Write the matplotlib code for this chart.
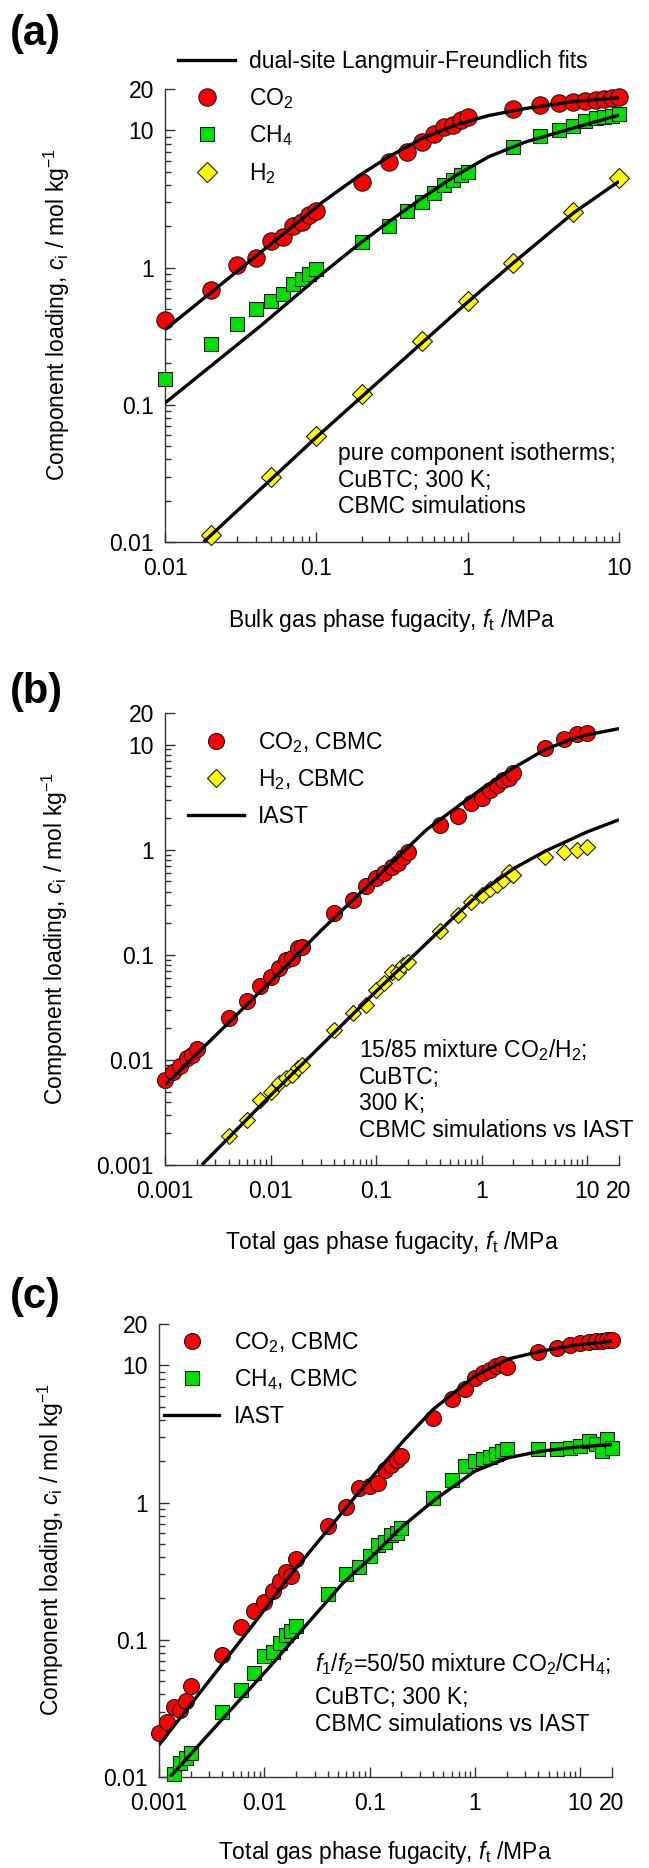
import matplotlib
matplotlib.use('Agg')
import matplotlib.pyplot as plt
import numpy as np
from matplotlib.ticker import LogLocator, NullFormatter, FixedLocator
from matplotlib.lines import Line2D

plt.rcParams['font.family'] = ['Liberation Sans', 'DejaVu Sans']
plt.rcParams['mathtext.fontset'] = 'custom'
plt.rcParams['mathtext.rm'] = 'Liberation Sans'
plt.rcParams['mathtext.it'] = 'Liberation Sans:italic'
plt.rcParams['mathtext.bf'] = 'Liberation Sans:bold'

# ---------------- data: panel (a) pure component isotherms ----------------
fa_co2 = [0.01, 0.02, 0.03, 0.04, 0.05, 0.06, 0.07, 0.08, 0.09, 0.1,
          0.2, 0.3, 0.4, 0.5, 0.6, 0.7, 0.8, 0.9, 1.0,
          2, 3, 4, 5, 6, 7, 8, 9, 10]
ca_co2 = [0.415, 0.685, 1.05, 1.17, 1.55, 1.68, 2.02, 2.16, 2.42, 2.58,
          4.17, 5.9, 6.96, 8.2, 9.46, 10.6, 11.0, 11.9, 12.4,
          14.4, 15.4, 15.9, 16.2, 16.4, 16.6, 16.9, 17.2, 17.6]
fa_ch4 = fa_co2
ca_ch4 = [0.154, 0.277, 0.386, 0.497, 0.57, 0.637, 0.753, 0.82, 0.89, 0.98,
          1.53, 2.02, 2.58, 3.01, 3.47, 3.98, 4.33, 4.71, 4.98,
          7.5, 9.05, 10.0, 10.7, 11.7, 12.2, 12.5, 12.8, 13.2]
fa_h2 = [0.02, 0.05, 0.1, 0.2, 0.5, 1, 2, 5, 10]
ca_h2 = [0.0112, 0.030, 0.059, 0.12, 0.29, 0.57, 1.08, 2.52, 4.47]

fa_fit_co2 = [0.01, 0.02, 0.0394, 0.0653, 0.109, 0.201, 0.30, 0.497, 0.826, 1.37, 2.39, 5, 10]
ca_fit_co2 = [0.353, 0.654, 1.20, 1.88, 2.98, 4.84, 6.4, 8.7, 10.9, 12.8, 14.4, 16.2, 17.3]
fa_fit_ch4 = [0.01, 0.0425, 0.109, 0.194, 0.30, 0.497, 0.826, 1.37, 2.39, 5, 10]
ca_fit_ch4 = [0.103, 0.373, 0.90, 1.50, 2.15, 3.2, 4.65, 6.4, 8.2, 10.4, 12.9]
fa_fit_h2 = [0.018, 0.1, 1, 2, 5, 10]
ca_fit_h2 = [0.010, 0.058, 0.56, 1.08, 2.5, 4.25]

# ---------------- data: panel (b) 15/85 CO2/H2 mixture ----------------
fb_co2 = [0.001, 0.0012, 0.0014, 0.0016, 0.0018, 0.002,
          0.004, 0.006, 0.008, 0.01, 0.012, 0.014, 0.016, 0.018, 0.02,
          0.04, 0.06, 0.08, 0.1, 0.12, 0.14, 0.16, 0.18, 0.2,
          0.4, 0.6, 0.8, 1, 1.2, 1.4, 1.6, 1.8, 2,
          4, 6, 8, 10]
cb_co2 = [0.0064, 0.0077, 0.0088, 0.0104, 0.0112, 0.0126,
          0.025, 0.036, 0.050, 0.062, 0.075, 0.090, 0.093, 0.116, 0.118,
          0.25, 0.33, 0.45, 0.54, 0.60, 0.69, 0.75, 0.86, 0.96,
          1.73, 2.08, 2.78, 3.1, 3.73, 4.16, 4.64, 4.8, 5.4,
          9.3, 11.2, 12.5, 12.9]
fb_h2 = [0.004, 0.006, 0.008, 0.01, 0.012, 0.014, 0.016, 0.018, 0.02,
         0.04, 0.06, 0.08, 0.1, 0.12, 0.14, 0.16, 0.18, 0.2,
         0.4, 0.6, 0.8, 1, 1.2, 1.4, 1.6, 1.8, 2,
         4, 6, 8, 10]
cb_h2 = [0.0019, 0.0027, 0.0042, 0.0050, 0.0060, 0.0067, 0.0072, 0.0083, 0.0090,
         0.0193, 0.028, 0.033, 0.046, 0.054, 0.069, 0.068, 0.080, 0.086,
         0.167, 0.24, 0.32, 0.37, 0.42, 0.46, 0.52, 0.62, 0.58,
         0.86, 0.96, 1.0, 1.07]
fb_iast_co2 = [0.001, 0.003, 0.01, 0.03, 0.1, 0.3, 1, 2, 4, 7, 10, 20]
cb_iast_co2 = [0.0058, 0.017, 0.056, 0.17, 0.54, 1.55, 3.8, 6.0, 9.0, 11.2, 12.4, 14.2]
fb_iast_h2 = [0.00223, 0.01, 0.1, 0.5, 1, 2, 4, 10, 20]
cb_iast_h2 = [0.001, 0.0046, 0.045, 0.21, 0.40, 0.66, 0.97, 1.48, 1.93]

# ---------------- data: panel (c) 50/50 CO2/CH4 mixture ----------------
fc_co2 = [0.001, 0.0012, 0.0014, 0.0016, 0.0018, 0.002,
          0.004, 0.006, 0.008, 0.01, 0.012, 0.014, 0.016, 0.018, 0.02,
          0.04, 0.06, 0.08, 0.1, 0.12, 0.14, 0.16, 0.18, 0.2,
          0.4, 0.6, 0.8, 1, 1.2, 1.4, 1.6, 1.8, 2,
          4, 6, 8, 10, 12, 14, 16, 18, 20]
cc_co2 = [0.0208, 0.025, 0.0326, 0.031, 0.036, 0.046,
          0.077, 0.124, 0.161, 0.19, 0.225, 0.27, 0.31, 0.29, 0.39,
          0.67, 0.93, 1.28, 1.31, 1.38, 1.74, 1.89, 2.05, 2.2,
          4.15, 5.65, 6.68, 8.1, 8.8, 9.2, 9.9, 10.2, 9.8,
          12.4, 13.4, 14.0, 14.5, 14.8, 15.1, 15.1, 15.3, 15.4]
fc_ch4 = [0.0014, 0.0016, 0.0018, 0.002,
          0.004, 0.006, 0.008, 0.01, 0.012, 0.014, 0.016, 0.018, 0.02,
          0.04, 0.06, 0.08, 0.1, 0.12, 0.14, 0.16, 0.18, 0.2,
          0.4, 0.6, 0.8, 1, 1.2, 1.4, 1.6, 1.8, 2,
          4, 6, 8, 10, 12, 14, 16, 18, 20]
cc_ch4 = [0.0106, 0.0126, 0.0137, 0.0149,
          0.030, 0.0427, 0.057, 0.076, 0.082, 0.095, 0.109, 0.115, 0.125,
          0.217, 0.30, 0.34, 0.405, 0.49, 0.52, 0.58, 0.60, 0.65,
          1.08, 1.47, 1.84, 2.0, 2.06, 2.15, 2.24, 2.37, 2.44,
          2.44, 2.44, 2.5, 2.58, 2.8, 2.65, 2.37, 2.88, 2.5]
fc_iast_co2 = [0.001, 0.0085, 0.0163, 0.072, 0.112, 0.208, 0.4, 0.995, 2.06, 4.27, 8.85, 20]
cc_iast_co2 = [0.0171, 0.14, 0.274, 1.09, 1.62, 2.80, 4.77, 8.36, 11.1, 12.7, 14.0, 15.0]
fc_iast_ch4 = [0.00127, 0.0113, 0.056, 0.1, 0.2, 0.416, 0.995, 2.06, 4.27, 8.85, 20]
cc_iast_ch4 = [0.01, 0.0638, 0.26, 0.39, 0.66, 1.05, 1.69, 2.12, 2.37, 2.53, 2.65]

# tick labels
xt_a = [0.01, 0.1, 1, 10]
xtl_a = ['0.01', '0.1', '1', '10']
yt_a = [0.01, 0.1, 1, 10, 20]
ytl_a = ['0.01', '0.1', '1', '10', '20']
xt_bc = [0.001, 0.01, 0.1, 1, 10, 20]
xtl_bc = ['0.001', '0.01', '0.1', '1', '10', '20']
yt_b = [0.001, 0.01, 0.1, 1, 10, 20]
ytl_b = ['0.001', '0.01', '0.1', '1', '10', '20']
yt_c = [0.01, 0.1, 1, 10, 20]
ytl_c = ['0.01', '0.1', '1', '10', '20']

# ---------------- figure ----------------
W, H = 649, 1868
fig = plt.figure(figsize=(W / 100, H / 100), dpi=100)

RED = '#FF0000'
GREEN = '#00E000'
YELLOW = '#FFFF00'
EC = '#1a1a1a'
FS = 16.5
LW = 2.4


def rect(l, r, t, b):
    return [l / W, 1 - b / H, (r - l) / W, (b - t) / H]


def style(ax, xlim, ylim, xt, xtl, yt, ytl):
    ax.set_xscale('log')
    ax.set_yscale('log')
    ax.set_xlim(*xlim)
    ax.set_ylim(*ylim)
    for s in ['top', 'right']:
        ax.spines[s].set_visible(False)
    for s in ['left', 'bottom']:
        ax.spines[s].set_color('#333333')
        ax.spines[s].set_linewidth(1.0)
    ax.xaxis.set_major_locator(FixedLocator(xt))
    ax.set_xticklabels(xtl)
    ax.yaxis.set_major_locator(FixedLocator(yt))
    ax.set_yticklabels(ytl)
    for a in (ax.xaxis, ax.yaxis):
        a.set_minor_locator(LogLocator(base=10, subs=np.arange(2, 10), numticks=50))
        a.set_minor_formatter(NullFormatter())
    ax.tick_params(which='major', direction='in', length=7, width=1,
                   color='#333333', labelsize=FS)
    ax.tick_params(which='minor', direction='in', length=4, width=1, color='#333333')
    ax.tick_params(axis='x', which='major', pad=11)
    ax.tick_params(axis='y', which='major', pad=8)


mk = dict(linestyle='none', markeredgecolor=EC, markeredgewidth=0.8, zorder=3, clip_on=False)
ln = dict(color='black', linewidth=LW, zorder=4, solid_capstyle='butt')


def mhandle(marker, ms, fc):
    return Line2D([], [], marker=marker, markersize=ms, markerfacecolor=fc, linestyle='none',
                  markeredgecolor=EC, markeredgewidth=0.8)


leg_kw = dict(bbox_transform=fig.transFigure, frameon=False, fontsize=FS,
              borderpad=0, borderaxespad=0, numpoints=1, loc='upper left')

# ---- panel (a)
axa = fig.add_axes(rect(165, 619, 89, 542))
style(axa, (0.01, 10), (0.01, 20), xt_a, xtl_a, yt_a, ytl_a)
axa.plot(fa_co2, ca_co2, marker='o', markersize=12.5, markerfacecolor=RED, **mk)
axa.plot(fa_ch4, ca_ch4, marker='s', markersize=10.5, markerfacecolor=GREEN, **mk)
axa.plot(fa_h2, ca_h2, marker='D', markersize=10, markerfacecolor=YELLOW, **mk)
axa.plot(fa_fit_co2, ca_fit_co2, **ln)
axa.plot(fa_fit_ch4, ca_fit_ch4, **ln)
axa.plot(fa_fit_h2, ca_fit_h2, **ln)
ha = [Line2D([], [], color='black', linewidth=LW),
      mhandle('o', 12.5, RED), mhandle('s', 10.5, GREEN), mhandle('D', 10, YELLOW)]
la = ['dual-site Langmuir-Freundlich fits', 'CO$_2$', 'CH$_4$', 'H$_2$']
fig.legend(ha, la, bbox_to_anchor=(178 / W, 1 - 50 / H),
           handlelength=2.5, handletextpad=0.6, labelspacing=0.55, **leg_kw)
for i, s in enumerate(['pure component isotherms;', 'CuBTC; 300 K;', 'CBMC simulations']):
    fig.text(338 / W, 1 - (460 + 26.5 * i) / H, s, fontsize=FS, ha='left', va='baseline')
fig.text(392 / W, 1 - 620 / H, 'Bulk gas phase fugacity, $f_\\mathrm{t}$ /MPa',
         fontsize=FS, ha='center', va='center')
fig.text(57 / W, 1 - 315 / H, 'Component loading, $c_\\mathrm{i}$ / mol kg$^{-1}$',
         fontsize=FS, ha='center', va='center', rotation=90)
fig.text(10 / W, 1 - 34 / H, '(a)', fontsize=30, fontweight='bold', ha='left', va='center')

# ---- panel (b)
axb = fig.add_axes(rect(165, 619, 713, 1165))
style(axb, (0.001, 20), (0.001, 20), xt_bc, xtl_bc, yt_b, ytl_b)
axb.plot(fb_co2, cb_co2, marker='o', markersize=11.5, markerfacecolor=RED, **mk)
axb.plot(fb_h2, cb_h2, marker='D', markersize=8.5, markerfacecolor=YELLOW, **mk)
axb.plot(fb_iast_co2, cb_iast_co2, **ln)
axb.plot(fb_iast_h2, cb_iast_h2, **ln)
hb = [mhandle('o', 11.5, RED), mhandle('D', 9, YELLOW), Line2D([], [], color='black', linewidth=LW)]
lb = ['CO$_2$, CBMC', 'H$_2$, CBMC', 'IAST']
fig.legend(hb, lb, bbox_to_anchor=(188 / W, 1 - 730 / H),
           handlelength=2.45, handletextpad=0.6, labelspacing=0.55, **leg_kw)
for i, s in enumerate(['15/85 mixture CO$_2$/H$_2$;', 'CuBTC;', '300 K;',
                       'CBMC simulations vs IAST']):
    fig.text(359 / W, 1 - (1057 + 26.7 * i) / H, s, fontsize=FS, ha='left', va='baseline')
fig.text(392 / W, 1 - 1243 / H, 'Total gas phase fugacity, $f_\\mathrm{t}$ /MPa',
         fontsize=FS, ha='center', va='center')
fig.text(55 / W, 1 - 939 / H, 'Component loading, $c_\\mathrm{i}$ / mol kg$^{-1}$',
         fontsize=FS, ha='center', va='center', rotation=90)
fig.text(10 / W, 1 - 692 / H, '(b)', fontsize=30, fontweight='bold', ha='left', va='center')

# ---- panel (c)
axc = fig.add_axes(rect(159, 612, 1324, 1777))
style(axc, (0.001, 20), (0.01, 20), xt_bc, xtl_bc, yt_c, ytl_c)
axc.plot(fc_co2, cc_co2, marker='o', markersize=11.5, markerfacecolor=RED, **mk)
axc.plot(fc_ch4, cc_ch4, marker='s', markersize=9.5, markerfacecolor=GREEN, **mk)
axc.plot(fc_iast_co2, cc_iast_co2, **ln)
axc.plot(fc_iast_ch4, cc_iast_ch4, **ln)
hc = [mhandle('o', 11.5, RED), mhandle('s', 9.5, GREEN), Line2D([], [], color='black', linewidth=LW)]
lc = ['CO$_2$, CBMC', 'CH$_4$, CBMC', 'IAST']
fig.legend(hc, lc, bbox_to_anchor=(164 / W, 1 - 1330 / H),
           handlelength=2.4, handletextpad=0.65, labelspacing=0.55, **leg_kw)
for s, y in [('$f_1$/$f_2$=50/50 mixture CO$_2$/CH$_4$;', 1671),
             ('CuBTC; 300 K;', 1704),
             ('CBMC simulations vs IAST', 1731)]:
    fig.text(315 / W, 1 - y / H, s, fontsize=FS, ha='left', va='baseline')
fig.text(385 / W, 1 - 1853 / H, 'Total gas phase fugacity, $f_\\mathrm{t}$ /MPa',
         fontsize=FS, ha='center', va='center')
fig.text(51 / W, 1 - 1550 / H, 'Component loading, $c_\\mathrm{i}$ / mol kg$^{-1}$',
         fontsize=FS, ha='center', va='center', rotation=90)
fig.text(10 / W, 1 - 1297 / H, '(c)', fontsize=30, fontweight='bold', ha='left', va='center')

fig.savefig('out.png', dpi=100)
